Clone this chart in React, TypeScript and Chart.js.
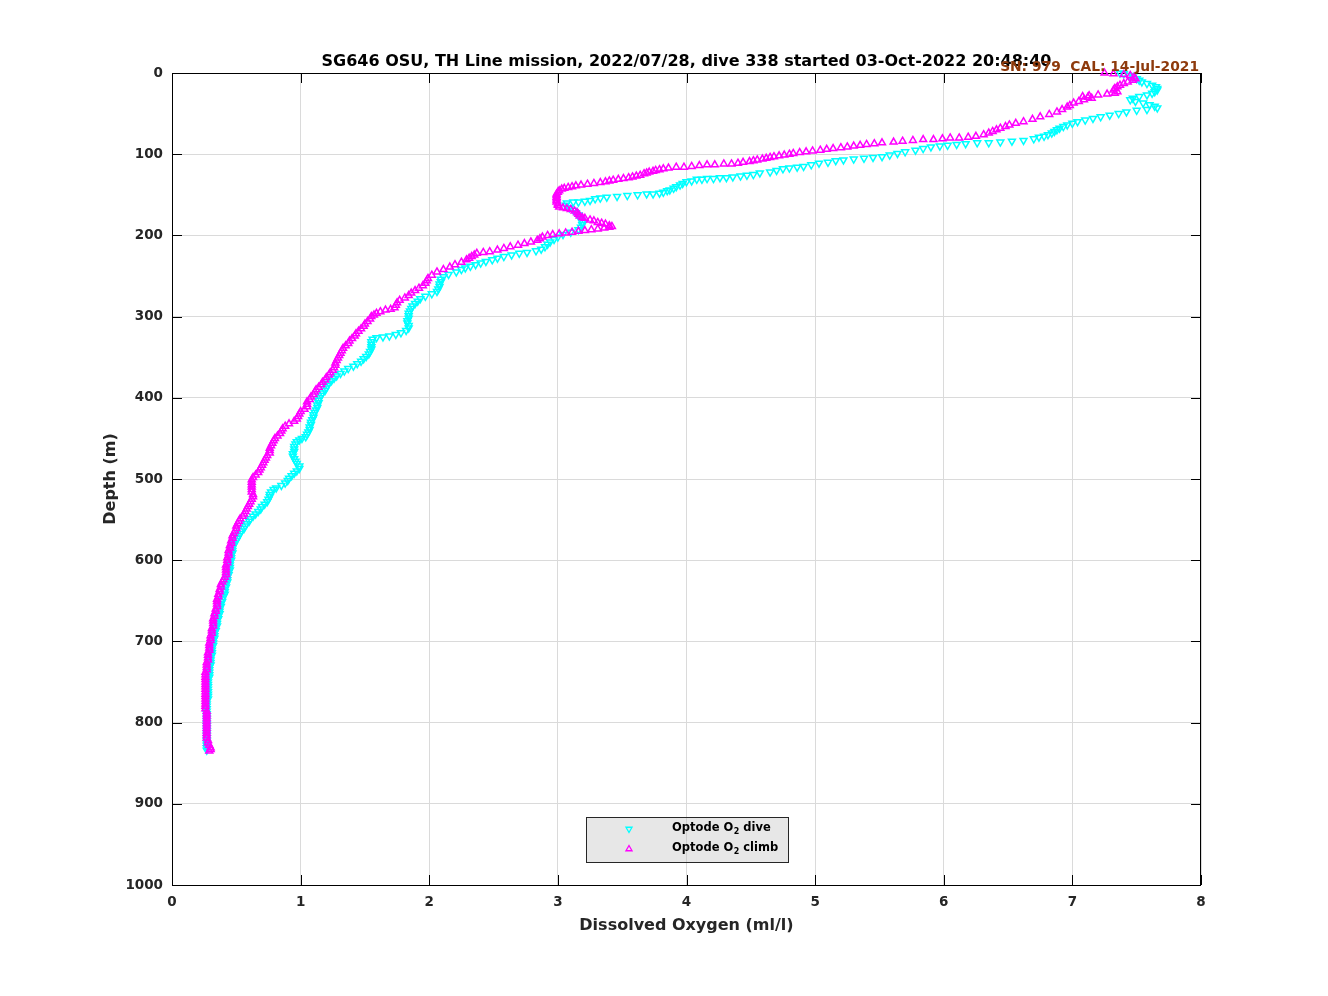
import React, { useEffect, useRef } from 'react';
import { Chart, registerables } from 'chart.js';

Chart.register(...registerables);

const TITLE = 'SG646 OSU, TH Line mission, 2022/07/28, dive 338 started 03-Oct-2022 20:48:40';
const SENSOR_NOTE = 'SN: 979  CAL: 14-Jul-2021';
const X_LABEL = 'Dissolved Oxygen (ml/l)';
const Y_LABEL = 'Depth (m)';
const X_TICKS = [0, 1, 2, 3, 4, 5, 6, 7, 8];
const Y_TICKS = [0, 100, 200, 300, 400, 500, 600, 700, 800, 900, 1000];

// [depth (m), dissolved oxygen (ml/l)]
const diveProfile: [number, number][] = [
  [0,7.37],[1,7.40],[3,7.44],[5,7.47],[7,7.50],[9,7.52],[11,7.54],[13,7.58],[15,7.62],[17,7.65],[19,7.66],[21,7.66],[23,7.64],[25,7.62],[27,7.58],[29,7.52],[31,7.47],[33,7.45],[35,7.49],[37,7.55],[39,7.60],[41,7.64],[43,7.66],[45,7.58],[46,7.50],[48,7.42],[50,7.36],[52,7.29],[54,7.22],[56,7.16],[58,7.10],[60,7.04],[62,7.00],[64,6.96],[66,6.93],[68,6.90],[70,6.88],[72,6.86],[74,6.84],[76,6.81],[78,6.78],[79,6.74],[81,6.70],[83,6.62],[84,6.53],[85,6.44],[86,6.35],[86,6.26],[87,6.17],[88,6.10],[89,6.03],[90,5.97],[91,5.90],[93,5.84],[95,5.78],[97,5.70],[99,5.64],[101,5.58],[103,5.52],[104,5.45],[105,5.38],[106,5.30],[107,5.22],[108,5.16],[110,5.10],[111,5.03],[113,4.97],[115,4.91],[116,4.86],[117,4.80],[118,4.75],[120,4.70],[122,4.65],[123,4.57],[125,4.52],[126,4.47],[127,4.42],[128,4.36],[129,4.31],[129,4.26],[130,4.21],[130,4.16],[131,4.12],[131,4.08],[133,4.04],[134,4.00],[136,3.97],[138,3.95],[140,3.92],[142,3.90],[144,3.87],[145,3.85],[147,3.82],[148,3.79],[149,3.74],[149,3.69],[150,3.62],[151,3.54],[152,3.46],[153,3.38],[154,3.33],[155,3.29],[157,3.25],[158,3.21],[159,3.16],[159,3.12],[160,3.07],[163,3.06],[166,3.09],[169,3.12],[172,3.14],[175,3.16],[178,3.17],[181,3.18],[184,3.19],[187,3.19],[190,3.18],[193,3.16],[196,3.10],[199,3.04],[202,3.00],[205,2.97],[208,2.94],[211,2.92],[214,2.90],[217,2.87],[219,2.83],[221,2.76],[222,2.70],[224,2.64],[226,2.58],[228,2.53],[230,2.49],[232,2.44],[234,2.40],[236,2.36],[238,2.32],[240,2.28],[242,2.25],[245,2.21],[248,2.15],
  [251,2.11],[254,2.09],[257,2.09],[260,2.08],[263,2.08],[266,2.07],[269,2.06],[272,2.02],[275,1.97],[278,1.93],[281,1.91],[284,1.89],[287,1.87],[290,1.86],[293,1.85],[296,1.84],[299,1.84],[302,1.84],[305,1.83],[308,1.83],[311,1.84],[314,1.84],[317,1.82],[320,1.78],[322,1.74],[324,1.69],[325,1.64],[326,1.59],[328,1.56],[331,1.55],[334,1.55],[337,1.55],[340,1.55],[343,1.54],[346,1.53],[349,1.51],[352,1.49],[355,1.47],[358,1.44],[361,1.41],[364,1.37],[367,1.34],[370,1.31],[373,1.28],[376,1.26],[379,1.24],[382,1.22],[385,1.21],[388,1.20],[391,1.19],[394,1.17],[397,1.16],[400,1.15],[403,1.14],[406,1.14],[409,1.13],[412,1.13],[415,1.12],[418,1.11],[421,1.10],[424,1.10],[427,1.09],[430,1.08],[433,1.08],[436,1.07],[439,1.07],[442,1.06],[445,1.05],[448,1.04],[450,1.01],[452,0.99],[454,0.97],[457,0.96],[460,0.95],[463,0.95],[466,0.95],[469,0.94],[472,0.94],[475,0.95],[478,0.96],[481,0.97],[484,0.99],[487,0.99],[490,0.97],[493,0.95],[496,0.93],[499,0.91],[502,0.90],[505,0.88],[508,0.85],[511,0.81],[513,0.79],[516,0.77],[519,0.76],[522,0.76],[525,0.75],[528,0.74],[531,0.72],[534,0.70],[537,0.69],[540,0.67],[543,0.65],[546,0.63],[549,0.61],[552,0.60],[555,0.58],[558,0.57],[561,0.56],[564,0.54],[567,0.53],[570,0.52],[573,0.51],[576,0.50],[579,0.48],[582,0.48],[585,0.47],[588,0.47],[591,0.47],[594,0.46],[597,0.46],[600,0.46],[603,0.45],[606,0.45],[609,0.45],[612,0.45],[615,0.44],[618,0.44],[621,0.43],[624,0.43],[627,0.43],[630,0.42],[633,0.42],[636,0.41],[639,0.41],[642,0.41],[645,0.40],[648,0.39],[651,0.39],[654,0.38],[657,0.38],[660,0.37],[663,0.37],[666,0.37],[669,0.36],[672,0.36],[675,0.35],[678,0.35],[681,0.35],[684,0.34],[687,0.34],[690,0.33],[693,0.33],[696,0.33],[699,0.32],[702,0.32],[705,0.32],[708,0.31],[711,0.31],[714,0.31],[717,0.31],[720,0.30],[723,0.30],[726,0.30],[729,0.30],[732,0.29],[735,0.29],[738,0.29],[741,0.29],[744,0.29],[747,0.28],[750,0.28],[753,0.28],[756,0.28],[759,0.28],[762,0.28],[765,0.28],[768,0.28],[771,0.28],[774,0.27],[777,0.27],[780,0.27],[783,0.27],[786,0.27],[789,0.27],[792,0.27],[795,0.27],[798,0.27],[801,0.27],[804,0.27],[807,0.27],[810,0.27],[813,0.27],[816,0.27],[819,0.27],[822,0.27],[825,0.27],[828,0.27],[831,0.27],[834,0.27]
];

const climbProfile: [number, number][] = [
  [0,7.25],[1,7.32],[2,7.40],[3,7.45],[5,7.48],[7,7.49],[9,7.47],[11,7.43],[13,7.40],[15,7.37],[17,7.35],[19,7.33],[21,7.32],[23,7.35],[25,7.33],[26,7.27],[27,7.20],[28,7.13],[29,7.08],[30,7.12],[31,7.15],[33,7.09],[35,7.05],[37,7.01],[40,6.98],[42,6.96],[45,6.92],[48,6.88],[51,6.82],[54,6.75],[57,6.69],[60,6.62],[62,6.56],[64,6.51],[66,6.48],[68,6.44],[70,6.41],[72,6.38],[74,6.35],[76,6.31],[78,6.25],[79,6.19],[80,6.12],[80,6.05],[81,5.99],[82,5.92],[82,5.84],[83,5.76],[84,5.68],[85,5.61],[86,5.52],[87,5.46],[88,5.40],[89,5.35],[90,5.30],[91,5.25],[92,5.20],[93,5.14],[94,5.09],[95,5.04],[96,4.98],[97,4.93],[98,4.88],[99,4.83],[100,4.80],[101,4.76],[102,4.72],[103,4.68],[104,4.65],[105,4.62],[106,4.59],[107,4.55],[108,4.52],[109,4.49],[110,4.44],[111,4.40],[112,4.35],[112,4.29],[113,4.22],[113,4.16],[114,4.10],[115,4.04],[116,3.98],[116,3.92],[117,3.86],[118,3.82],[119,3.79],[120,3.76],[121,3.74],[122,3.71],[123,3.69],[124,3.67],[126,3.64],[127,3.61],[128,3.58],[129,3.55],[130,3.51],[131,3.47],[132,3.43],[133,3.40],[134,3.37],[135,3.33],[136,3.28],[137,3.23],[138,3.18],[139,3.14],[140,3.11],[141,3.08],[142,3.05],[143,3.03],[145,3.01],[147,3.00],[149,2.99],[151,2.99],[153,2.99],[155,2.99],[157,2.99],[159,2.99],[161,3.00],[163,3.00],[165,3.01],[166,3.04],[167,3.07],[168,3.10],[170,3.13],[172,3.15],[174,3.16],[176,3.17],[178,3.19],[179,3.21],[181,3.25],[182,3.28],[184,3.31],[185,3.34],[186,3.37],[188,3.40],[189,3.42],[190,3.40],[191,3.36],[192,3.31],[193,3.26],[194,3.21],[195,3.16],[196,3.11],[197,3.06],[198,3.01],[199,2.96],[200,2.92],[202,2.88],[204,2.86],[206,2.84],[208,2.79],[210,2.74],[212,2.69],[214,2.63],[216,2.58],[218,2.53],[220,2.47],[221,2.42],[222,2.37],[224,2.35],[226,2.33],[228,2.31],[230,2.29],[233,2.25],[236,2.20],[239,2.16],[242,2.11],[245,2.06],[249,2.02],
  [253,1.99],[256,1.98],[259,1.97],[262,1.95],[265,1.92],[268,1.89],[271,1.86],[274,1.84],[277,1.81],[280,1.77],[283,1.75],[286,1.74],[289,1.73],[291,1.70],[292,1.66],[294,1.62],[296,1.59],[298,1.57],[300,1.55],[303,1.54],[306,1.52],[309,1.50],[312,1.49],[315,1.47],[318,1.45],[321,1.43],[324,1.42],[327,1.40],[330,1.38],[333,1.37],[336,1.35],[339,1.33],[342,1.32],[345,1.31],[348,1.30],[351,1.29],[354,1.28],[357,1.27],[360,1.27],[363,1.26],[366,1.25],[369,1.23],[372,1.22],[375,1.20],[378,1.19],[381,1.17],[384,1.16],[387,1.14],[390,1.12],[393,1.11],[396,1.10],[399,1.08],[402,1.07],[405,1.05],[408,1.05],[411,1.05],[414,1.03],[417,1.00],[420,0.99],[423,0.98],[426,0.97],[429,0.95],[432,0.91],[435,0.88],[438,0.86],[441,0.85],[444,0.84],[447,0.82],[450,0.80],[453,0.79],[456,0.78],[459,0.77],[462,0.76],[465,0.76],[468,0.76],[471,0.74],[474,0.73],[477,0.72],[480,0.71],[483,0.70],[486,0.69],[489,0.68],[492,0.67],[495,0.65],[498,0.63],[501,0.62],[504,0.62],[507,0.62],[510,0.62],[513,0.62],[516,0.62],[519,0.63],[522,0.63],[525,0.62],[528,0.61],[531,0.60],[534,0.59],[537,0.58],[540,0.57],[543,0.56],[546,0.55],[549,0.53],[552,0.52],[555,0.51],[558,0.50],[561,0.50],[564,0.49],[567,0.48],[570,0.47],[573,0.47],[576,0.46],[579,0.46],[582,0.45],[585,0.45],[588,0.44],[591,0.44],[594,0.44],[597,0.43],[600,0.43],[603,0.43],[606,0.42],[609,0.42],[612,0.42],[615,0.42],[618,0.42],[621,0.41],[624,0.40],[627,0.39],[630,0.38],[633,0.38],[636,0.37],[639,0.37],[642,0.36],[645,0.36],[648,0.35],[651,0.35],[654,0.35],[657,0.35],[660,0.34],[663,0.34],[666,0.33],[669,0.33],[672,0.32],[675,0.32],[678,0.32],[681,0.32],[684,0.31],[687,0.31],[690,0.31],[693,0.30],[696,0.30],[699,0.30],[702,0.29],[705,0.29],[708,0.29],[711,0.29],[714,0.28],[717,0.28],[720,0.28],[723,0.28],[726,0.27],[729,0.27],[732,0.27],[735,0.27],[738,0.26],[741,0.26],[744,0.26],[747,0.26],[750,0.26],[753,0.26],[756,0.26],[759,0.26],[762,0.26],[765,0.26],[768,0.26],[771,0.26],[774,0.26],[777,0.26],[780,0.26],[783,0.26],[786,0.27],[789,0.27],[792,0.27],[795,0.27],[798,0.27],[801,0.27],[804,0.27],[807,0.27],[810,0.27],[813,0.27],[816,0.27],[819,0.27],[822,0.28],[825,0.28],[828,0.29],[831,0.30],[833,0.30],[835,0.29]
];

const DIVE_LABEL = ['Optode O', '2', ' dive'];
const CLIMB_LABEL = ['Optode O', '2', ' climb'];

const FONT = '"DejaVu Sans", "Liberation Sans", sans-serif';
const TEXT = '#262626';
const CYAN = '#00ffff';
const MAGENTA = '#ff00ff';

function tri(ctx: CanvasRenderingContext2D, x: number, y: number, r: number, down: boolean) {
  const s = down ? -1 : 1;
  ctx.beginPath();
  ctx.moveTo(x, y - s * r);
  ctx.lineTo(x + r * 0.866, y + s * r * 0.5);
  ctx.lineTo(x - r * 0.866, y + s * r * 0.5);
  ctx.closePath();
  ctx.stroke();
}

const decorPlugin = {
  id: 'decor',
  beforeDatasetsDraw(chart: any) {
    const { ctx, chartArea } = chart;
    const { left, right, top, bottom } = chartArea;
    const xs = chart.scales.x;
    const ys = chart.scales.y;
    ctx.save();
    ctx.strokeStyle = '#000';
    ctx.lineWidth = 1;
    ctx.strokeRect(left + 0.5, top + 0.5, right - left - 1, bottom - top);
    const tl = 10;
    ctx.beginPath();
    X_TICKS.forEach((v) => {
      const px = Math.round(xs.getPixelForValue(v)) + 0.5;
      ctx.moveTo(px, bottom);
      ctx.lineTo(px, bottom - tl);
      ctx.moveTo(px, top);
      ctx.lineTo(px, top + tl);
    });
    Y_TICKS.forEach((v) => {
      const py = Math.round(ys.getPixelForValue(v)) + 0.5;
      ctx.moveTo(left, py);
      ctx.lineTo(left + tl, py);
      ctx.moveTo(right, py);
      ctx.lineTo(right - tl, py);
    });
    ctx.stroke();

    ctx.fillStyle = '#000';
    ctx.font = `bold 16px ${FONT}`;
    ctx.textAlign = 'center';
    ctx.textBaseline = 'alphabetic';
    ctx.fillText(TITLE, (left + right) / 2, 66);
    ctx.restore();
  },
  afterDatasetsDraw(chart: any) {
    const { ctx } = chart;
    ctx.save();
    ctx.fillStyle = '#8e3a0c';
    ctx.font = `bold 13.8px ${FONT}`;
    ctx.textAlign = 'right';
    ctx.textBaseline = 'alphabetic';
    ctx.fillText(SENSOR_NOTE, 1199, 71);

    // legend box
    const bx = 586, by = 817, bw = 202, bh = 45;
    ctx.fillStyle = 'rgba(185,185,185,0.35)';
    ctx.fillRect(bx, by, bw, bh);
    ctx.strokeStyle = '#262626';
    ctx.lineWidth = 1;
    ctx.strokeRect(bx + 0.5, by + 0.5, bw, bh);

    const rows: [string[], string, boolean, number][] = [
      [DIVE_LABEL, CYAN, true, 828],
      [CLIMB_LABEL, MAGENTA, false, 848],
    ];
    rows.forEach(([parts, color, down, y]) => {
      ctx.strokeStyle = color;
      ctx.lineWidth = 1.3;
      tri(ctx, 629, y + 1, 3.5, down);
      ctx.fillStyle = '#000';
      ctx.textAlign = 'left';
      ctx.textBaseline = 'middle';
      let x = 672;
      ctx.font = `bold 11.5px ${FONT}`;
      ctx.fillText(parts[0], x, y);
      x += ctx.measureText(parts[0]).width + 0.5;
      ctx.font = `bold 8px ${FONT}`;
      ctx.fillText(parts[1], x, y + 4);
      x += ctx.measureText(parts[1]).width;
      ctx.font = `bold 11.5px ${FONT}`;
      ctx.fillText(parts[2], x, y);
    });
    ctx.restore();
  },
};

export default function App() {
  const ref = useRef<HTMLCanvasElement | null>(null);
  useEffect(() => {
    document.body.style.margin = '0';
    const canvas = ref.current;
    if (!canvas) return;
    const tickFont = { family: FONT, size: 13.5, weight: 'bold' as const };
    const titleFont = { family: FONT, size: 16, weight: 'bold' as const };
    const chart = new Chart(canvas, {
      type: 'scatter',
      data: {
        datasets: [
          {
            label: 'Optode O2 dive',
            data: diveProfile.map(([d, o]) => ({ x: o, y: d })),
            pointStyle: 'triangle',
            rotation: 180,
            pointRadius: 4,
            borderColor: CYAN,
            backgroundColor: 'rgba(0,0,0,0)',
            borderWidth: 1.5,
            showLine: false,
            clip: false as any,
            order: 2,
          } as any,
          {
            label: 'Optode O2 climb',
            data: climbProfile.map(([d, o]) => ({ x: o, y: d })),
            pointStyle: 'triangle',
            pointRadius: 4,
            borderColor: MAGENTA,
            backgroundColor: 'rgba(0,0,0,0)',
            borderWidth: 1.5,
            showLine: false,
            clip: false as any,
            order: 1,
          } as any,
        ],
      },
      options: {
        responsive: false,
        animation: false,
        devicePixelRatio: 1,
        layout: { padding: { top: 73, right: 127, left: 0, bottom: 0 } },
        plugins: {
          legend: { display: false },
          title: { display: false },
          tooltip: { enabled: false },
        },
        scales: {
          x: {
            type: 'linear',
            min: 0,
            max: 8,
            afterBuildTicks: (s: any) => { s.ticks = X_TICKS.map((v) => ({ value: v })); },
            ticks: { color: TEXT, font: tickFont, padding: 9, maxRotation: 0, callback: (v: any) => String(v) },
            grid: { color: '#dadada', drawTicks: false, lineWidth: 1 },
            border: { display: false },
            title: { display: true, text: X_LABEL, color: TEXT, font: titleFont, padding: { top: 0, bottom: 61 } },
            afterFit: (s: any) => { s.height = 111; },
          },
          y: {
            type: 'linear',
            reverse: true,
            min: 0,
            max: 1000,
            afterBuildTicks: (s: any) => { s.ticks = Y_TICKS.map((v) => ({ value: v })); },
            ticks: { color: TEXT, font: tickFont, padding: 9, callback: (v: any) => String(v) },
            grid: { color: '#dadada', drawTicks: false, lineWidth: 1 },
            border: { display: false },
            title: { display: true, text: Y_LABEL, color: TEXT, font: titleFont, padding: { top: 101, bottom: 0 } },
            afterFit: (s: any) => { s.width = 172; },
          },
        },
      } as any,
      plugins: [decorPlugin],
    });
    return () => chart.destroy();
  }, []);
  return (
    <div style={{ width: 1328, height: 996, background: '#fff' }}>
      <canvas ref={ref} width={1328} height={996} style={{ display: 'block', width: 1328, height: 996 }} />
    </div>
  );
}
